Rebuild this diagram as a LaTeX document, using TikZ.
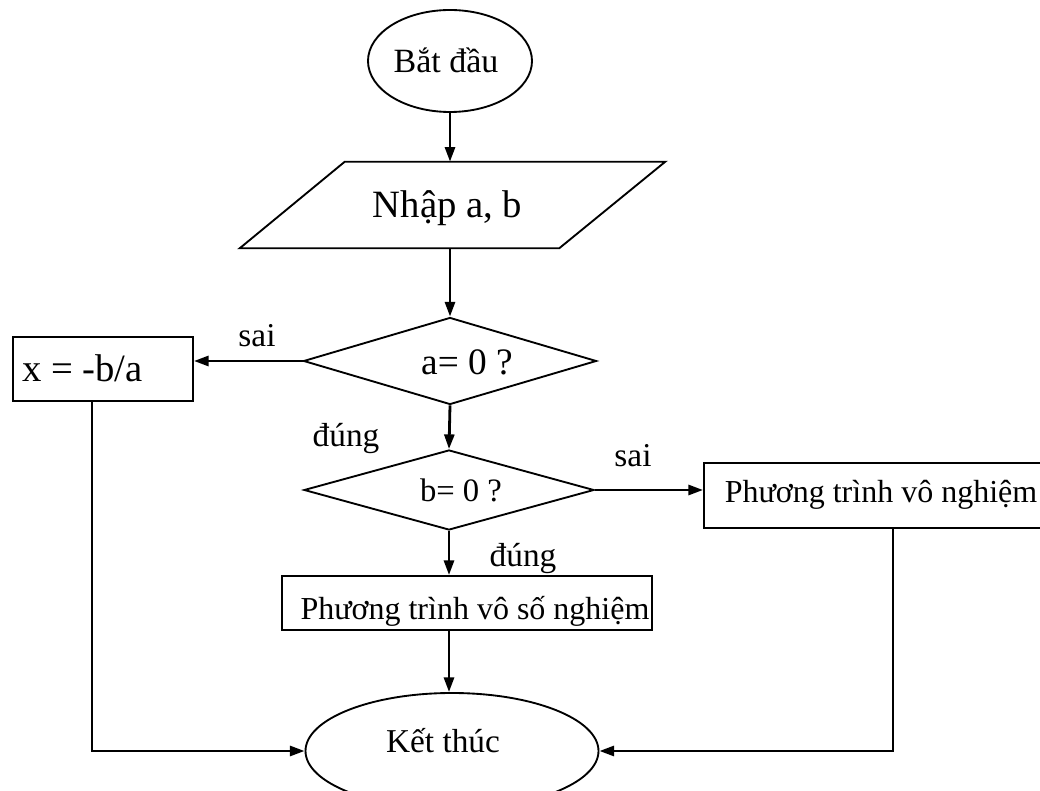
\documentclass[tikz,border=0pt]{standalone}
\usepackage{fontspec}
\setmainfont{Liberation Serif}
\usetikzlibrary{shapes.geometric,arrows.meta,calc}
\newcommand\pxu{0.75pt}
\begin{document}
\begin{tikzpicture}[x=0.75pt,y=-0.75pt,
  outline/.style={draw=black,line width=1.4pt,inner sep=0pt},
  shapebox/.style={outline,rectangle},
  oval/.style={outline,ellipse},
  decision/.style={outline,diamond},
  conn/.style={draw=black,line width=2.1pt,-{Triangle[length=11pt,width=7.5pt]}},
  txt/.style={inner sep=0pt,anchor=base,font=\fontsize{24}{28}\selectfont},
  lbl/.style={txt,font=\fontsize{25}{29}\selectfont},
  bigtxt/.style={txt,font=\fontsize{29}{34}\selectfont},
]
\useasboundingbox (0,0) rectangle (1040,791);
\clip (0,0) rectangle (1040,791);

% start
\node[oval,minimum width={164*\pxu},minimum height={102*\pxu}] (start) at (450,61) {};
\node[lbl,font=\fontsize{25.5}{30}\selectfont] (tstart) at (446,73) {Bắt đầu};

% input (parallelogram)
\node[inner sep=0pt,minimum width={425*\pxu},minimum height={86*\pxu}] (input) at (452.5,205) {};
\draw[line width=1.4pt,line join=miter]
  ($(input.north west)+(105,0)$) -- (input.north east)
  -- ($(input.south east)+(-106,0)$) -- (input.south west) -- cycle;
\node[bigtxt] (tinput) at (447.5,218) {Nhập a, b};

% decisions
\node[decision,minimum width={293*\pxu},minimum height={87*\pxu}] (qa) at (450,361) {};
\node[txt,font=\fontsize{28}{32}\selectfont] (tqa) at (467,375) {a= 0 ?};

\node[decision,minimum width={290*\pxu},minimum height={80*\pxu}] (qb) at (449,490) {};
\node[txt,font=\fontsize{24.5}{28}\selectfont] (tqb) at (461,502) {b= 0 ?};

% process boxes
\node[shapebox,minimum width={180*\pxu},minimum height={64*\pxu}] (xb) at (103,369) {};
\node[bigtxt,anchor=base west] (txb) at (22,382) {x = -b/a};

\node[shapebox,minimum width={354*\pxu},minimum height={65*\pxu}] (nv) at (881,495.5) {};
\node[txt] (tnv) at (881,503) {Phương trình vô nghiệm};

\node[shapebox,minimum width={370*\pxu},minimum height={54*\pxu}] (ns) at (467,603) {};
\node[txt] (tns) at (475,620) {Phương trình vô số nghiệm};

% stop
\node[oval,minimum width={293*\pxu},minimum height={116*\pxu}] (stop) at (452,751) {};
\node[lbl] (tstop) at (443,752) {Kết thúc};

% branch labels
\node[lbl] (lsai1) at (257,347) {sai};
\node[lbl] (ldung1) at (346,447) {đúng};
\node[lbl] (lsai2) at (633,467) {sai};
\node[lbl] (ldung2) at (523,567) {đúng};

% connectors
\draw[conn] (start.south) -- (start.south |- input.north);
\draw[conn] (input.south -| qa.north) -- (qa.north);
\draw[conn] (qa.west) -- (qa.west -| xb.east);
\draw[conn] (qa.south) -- (qb.north);
\draw[conn] (qb.east) -- (qb.east -| nv.west);
\draw[conn] (qb.south) -- (qb.south |- ns.north);
\draw[conn] (ns.south -| qb.south) -- (stop.north -| qb.south);
\draw[conn] ([xshift={-11*\pxu}]xb.south) |- (stop.west);
\draw[conn] ([xshift={12*\pxu}]nv.south) |- (stop.east);
\end{tikzpicture}
\end{document}
